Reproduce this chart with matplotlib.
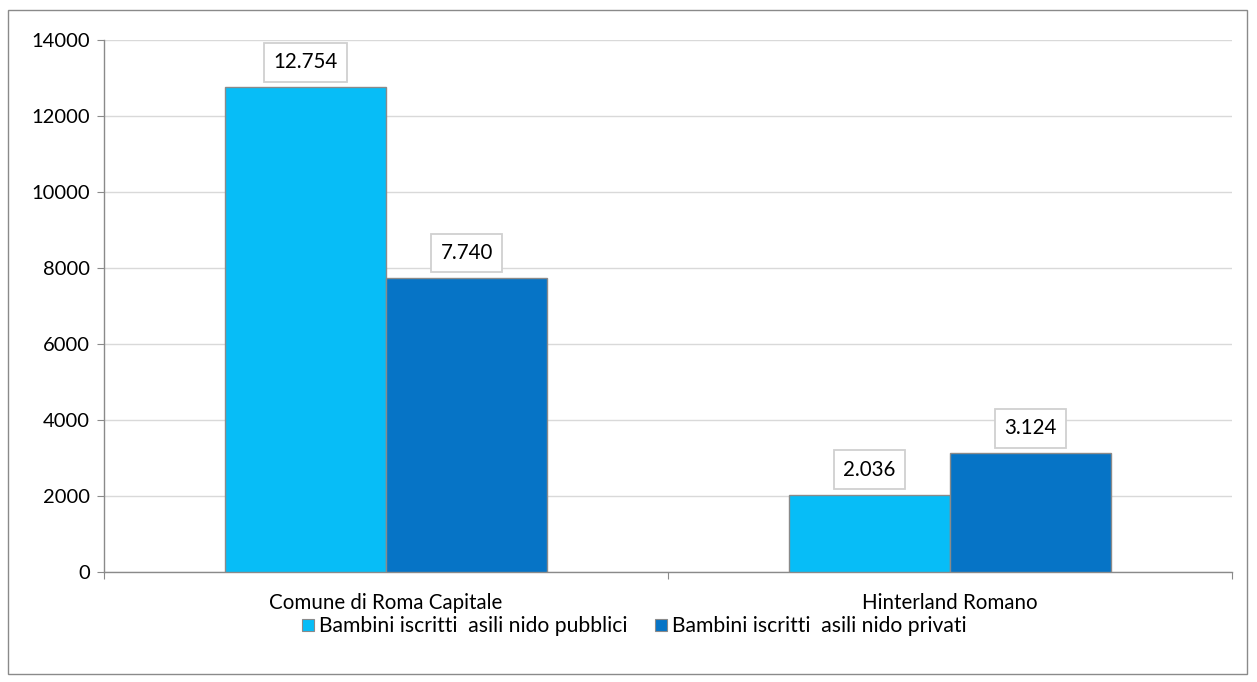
import matplotlib
matplotlib.use("Agg")
import matplotlib.pyplot as plt
from matplotlib.patches import Rectangle
from matplotlib.lines import Line2D
import numpy as np

categories = ["Comune di Roma Capitale", "Hinterland Romano"]
series_names = ["Bambini iscritti  asili nido pubblici", "Bambini iscritti  asili nido privati"]
pubblici = [12754, 2036]
privati = [7740, 3124]
yticks = [0, 2000, 4000, 6000, 8000, 10000, 12000, 14000]

colors = ["#07BDF7", "#0674C6"]
plt.rcParams['font.family'] = ['Lato', 'DejaVu Sans']

W, H = 1257, 682
fig = plt.figure(figsize=(W/100, H/100), dpi=100)
ax = fig.add_axes([104/W, 1-572/H, (1232-104)/W, (572-40)/H])

x = np.arange(len(categories))
bw = 0.286
series = [pubblici, privati]
for i, (vals, c) in enumerate(zip(series, colors)):
    pos = x + (i - 0.5) * bw
    ax.bar(pos, vals, width=bw, color=c, edgecolor="#8a8a8a", linewidth=1.0, zorder=3)
    for p, v in zip(pos, vals):
        lbl = f"{v:,}".replace(",", ".")
        ax.annotate(lbl, (p, v), xytext=(0, 18), textcoords="offset points",
                    ha="center", va="center", fontsize=14.8, color="#000000", zorder=5,
                    bbox=dict(boxstyle="square,pad=0.45", fc="white", ec="#d0d0d0", lw=1.3))

ax.set_xlim(-0.5, 1.5)
ax.set_ylim(0, 14000)
ax.set_yticks(yticks)
ax.set_yticklabels([str(t) for t in yticks], fontsize=14.5)
ax.yaxis.grid(True, color="#d9d9d9", linewidth=1.0, zorder=0)
ax.set_axisbelow(True)
ax.set_xticks([-0.5, 0.5, 1.5])
ax.set_xticklabels([])
ax.set_xticks(x, minor=True)
ax.set_xticklabels(categories, minor=True, fontsize=14.8)
ax.tick_params(axis="x", which="minor", length=0, pad=15)
ax.tick_params(axis="x", which="major", length=5, color="#8a8a8a", direction="out")
ax.tick_params(axis="y", length=5, color="#8a8a8a", direction="out", pad=5)
for s in ["top", "right"]:
    ax.spines[s].set_visible(False)
for s in ["left", "bottom"]:
    ax.spines[s].set_color("#8a8a8a")
    ax.spines[s].set_linewidth(1.0)

handles = [Line2D([], [], marker="s", linestyle="none", markersize=8,
                  markerfacecolor=c, markeredgecolor="#8a8a8a", markeredgewidth=0.8)
           for c in colors]
fig.legend(handles, series_names, loc="center", bbox_to_anchor=(634/W, 1-626/H),
           ncol=2, frameon=False, fontsize=15.2, handlelength=0.6, handletextpad=0.2,
           columnspacing=1.3)

fig.patches.append(Rectangle((8/W, 1-674/H), (1247-8)/W, (674-10)/H, transform=fig.transFigure,
                             fill=False, edgecolor="#8a8a8a", linewidth=1.0))
fig.savefig("out.png", dpi=100)
